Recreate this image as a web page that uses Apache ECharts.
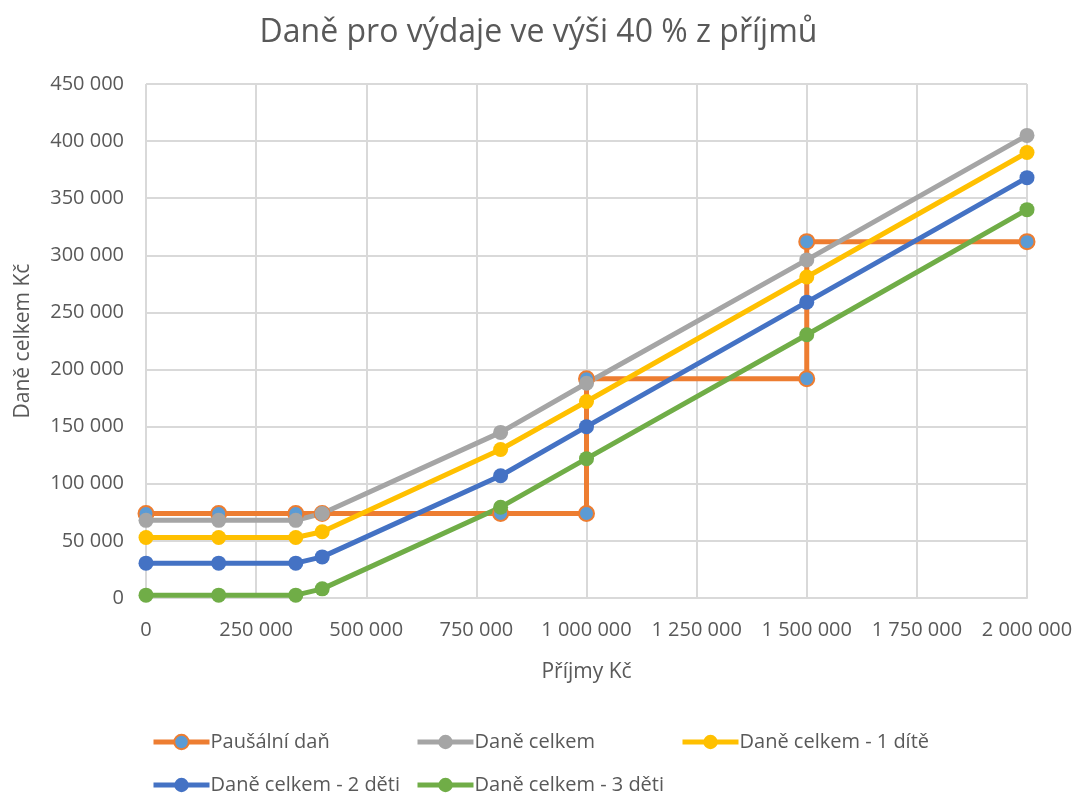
<!DOCTYPE html>
<html>
<head>
<meta charset="utf-8">
<script src="https://cdn.jsdelivr.net/npm/echarts@6/dist/echarts.min.js"></script>
<style>
  html, body { margin: 0; padding: 0; background: #fff; }
  #chart { width: 1077px; height: 794px; }
</style>
</head>
<body>
<div id="chart"></div>
<script>
// příjmy (osa x)
var prijmy = [0, 165000, 340000, 400000, 805000, 1000000, 1500000, 2000000];
// paušální daň - schody
var pausalX = [0, 165000, 340000, 400000, 805000, 1000000, 1000000, 1500000, 1500000, 2000000];
var pausalY = [74000, 74000, 74000, 74000, 74000, 74000, 192000, 192000, 312000, 312000];
var daneCelkem = [68000, 68000, 68000, 74000, 145000, 188000, 296000, 405000];
var dite1 = [53000, 53000, 53000, 58000, 130000, 172000, 281000, 390000];
var dite2 = [30500, 30500, 30500, 36000, 107000, 150000, 259000, 368000];
var dite3 = [2500, 2500, 2500, 8000, 79500, 122000, 230500, 340000];

var names = ['Paušální daň', 'Daně celkem', 'Daně celkem - 1 dítě', 'Daně celkem - 2 děti', 'Daně celkem - 3 děti'];
var colors = ['#ED7D31', '#A5A5A5', '#FFC000', '#4472C4', '#70AD47'];
var font = '"Open Sans", sans-serif';
var textColor = '#595959';

function pairs(xs, ys) {
  return xs.map(function (x, i) { return [x, ys[i]]; });
}

function fmt(v) {
  return String(v).replace(/\B(?=(\d{3})+(?!\d))/g, ' ');
}

function mkSeries(i, data) {
  return {
    name: names[i],
    type: 'line',
    data: data,
    symbol: 'circle',
    symbolSize: 15,
    lineStyle: { color: colors[i], width: 5 },
    itemStyle: i === 0
      ? { color: '#5B9BD5', borderColor: colors[i], borderWidth: 2 }
      : { color: colors[i] },
    emphasis: { disabled: true },
    animation: false
  };
}

// legendy zvlášť, aby seděly sloupce
var legendPos = [[146, 727], [410, 727], [675, 727], [146, 770], [410, 770]];
var legends = names.map(function (n, i) {
  return {
    data: [n],
    left: legendPos[i][0],
    top: legendPos[i][1],
    itemWidth: 56,
    itemHeight: 18,
    itemGap: 0,
    lineStyle: { width: 5 },
    textStyle: { color: textColor, fontSize: 20, fontFamily: font, padding: [0, 0, 0, -4] }
  };
});

var chart = echarts.init(document.getElementById('chart'), null, { renderer: 'canvas' });
chart.setOption({
  backgroundColor: '#fff',
  animation: false,
  title: {
    text: 'Daně pro výdaje ve výši 40 % z příjmů',
    left: 'center',
    top: 12,
    textStyle: { color: textColor, fontSize: 32, fontWeight: 'normal', fontFamily: font }
  },
  legend: legends,
  grid: { left: 146, right: 50, top: 84, bottom: 196 },
  xAxis: {
    type: 'value',
    min: 0,
    max: 2000000,
    interval: 250000,
    name: 'Příjmy Kč',
    nameLocation: 'middle',
    nameGap: 64,
    nameTextStyle: { color: textColor, fontSize: 21, fontFamily: font },
    axisLine: { show: true, lineStyle: { color: '#D9D9D9', width: 2 } },
    axisTick: { show: false },
    axisLabel: { color: textColor, fontSize: 20, fontFamily: font, margin: 22, formatter: fmt },
    splitLine: { show: true, lineStyle: { color: '#D9D9D9', width: 2 } }
  },
  yAxis: {
    type: 'value',
    min: 0,
    max: 450000,
    interval: 50000,
    name: 'Daně celkem Kč',
    nameLocation: 'middle',
    nameGap: 112,
    nameTextStyle: { color: textColor, fontSize: 21, fontFamily: font },
    axisLine: { show: false },
    axisTick: { show: false },
    axisLabel: { color: textColor, fontSize: 20, fontFamily: font, margin: 22, formatter: fmt },
    splitLine: { show: true, lineStyle: { color: '#D9D9D9', width: 2 } }
  },
  series: [
    mkSeries(0, pairs(pausalX, pausalY)),
    mkSeries(1, pairs(prijmy, daneCelkem)),
    mkSeries(2, pairs(prijmy, dite1)),
    mkSeries(3, pairs(prijmy, dite2)),
    mkSeries(4, pairs(prijmy, dite3))
  ]
});
</script>
</body>
</html>
